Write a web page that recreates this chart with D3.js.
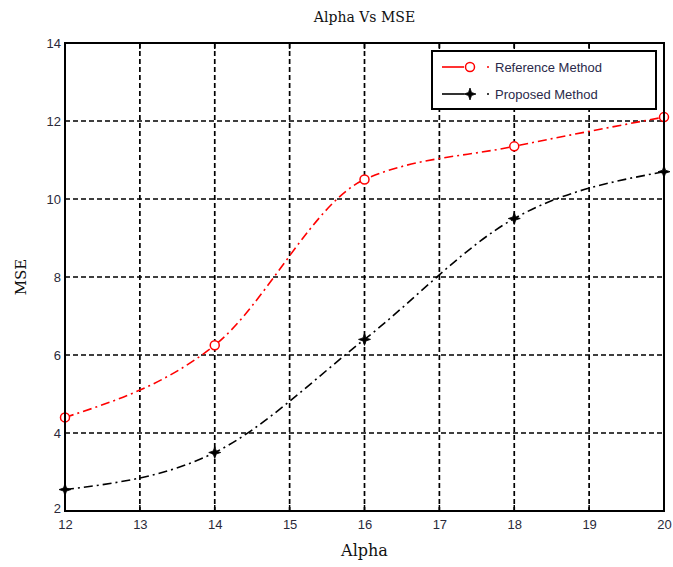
<!DOCTYPE html>
<html>
<head>
<meta charset="utf-8">
<script src="https://cdn.jsdelivr.net/npm/d3@7"></script>
<style>
  body { margin: 0; background: #fff; }
  .tick text { font-family: "Liberation Sans", Arial, sans-serif; font-size: 13px; fill: #2a2a3a; }
  .lab { font-family: "DejaVu Serif", "Liberation Serif", serif; fill: #111; }
  .leg { font-family: "Liberation Sans", Arial, sans-serif; font-size: 13px; fill: #2a2a4a; }
</style>
</head>
<body>
<div id="chart"></div>
<script>
var w = 673,
    h = 567,
    m = [43, 9, 56, 65]; // top right bottom left

var alpha = [12, 14, 16, 18, 20];
var referenceMSE = [4.4, 6.25, 10.5, 11.35, 12.1];
var proposedMSE = [2.55, 3.5, 6.4, 9.5, 10.7];
var xTicks = [12, 13, 14, 15, 16, 17, 18, 19, 20];
var yTicks = [2, 4, 6, 8, 10, 12, 14];

var series = [
  { name: "Reference Method", values: referenceMSE, color: "#ff0000", marker: "circle" },
  { name: "Proposed Method", values: proposedMSE, color: "#000000", marker: "star" }
];

var iw = w - m[1] - m[3],
    ih = h - m[0] - m[2];

var x = d3.scaleLinear().domain([12, 20]).range([0, iw]);
var y = d3.scaleLinear().domain([2, 14]).range([ih, 0]);

var svg = d3.select("#chart").append("svg")
    .attr("width", w)
    .attr("height", h);

var vis = svg.append("g")
    .attr("transform", "translate(" + m[3] + "," + m[0] + ")");

// grid
vis.append("g").selectAll("line")
    .data(xTicks.slice(1, -1))
  .enter().append("line")
    .attr("x1", function(d) { return x(d); })
    .attr("x2", function(d) { return x(d); })
    .attr("y1", 0).attr("y2", ih)
    .attr("stroke", "#000").attr("stroke-width", 1.7)
    .attr("stroke-dasharray", "5,3");

vis.append("g").selectAll("line")
    .data(yTicks.slice(1, -1))
  .enter().append("line")
    .attr("y1", function(d) { return y(d); })
    .attr("y2", function(d) { return y(d); })
    .attr("x1", 0).attr("x2", iw)
    .attr("stroke", "#000").attr("stroke-width", 1.7)
    .attr("stroke-dasharray", "5,3");

// axes
vis.append("g")
    .attr("transform", "translate(0," + ih + ")")
    .call(d3.axisBottom(x).tickValues(xTicks).tickSize(0).tickPadding(9))
    .call(function(g) { g.select(".domain").remove(); });

vis.append("g")
    .call(d3.axisLeft(y).tickValues(yTicks).tickSize(0).tickPadding(4))
    .call(function(g) {
      g.select(".domain").remove();
      g.selectAll(".tick text").attr("dy", function(d) { return d == 2 ? "0.1em" : "0.32em"; });
    });

// inner ticks
vis.append("g").selectAll("line")
    .data(xTicks)
  .enter().append("line")
    .attr("x1", function(d) { return x(d); })
    .attr("x2", function(d) { return x(d); })
    .attr("y1", ih).attr("y2", ih - 6)
    .attr("stroke", "#000").attr("stroke-width", 1.5);

vis.append("g").selectAll("line")
    .data(xTicks)
  .enter().append("line")
    .attr("x1", function(d) { return x(d); })
    .attr("x2", function(d) { return x(d); })
    .attr("y1", 0).attr("y2", 6)
    .attr("stroke", "#000").attr("stroke-width", 1.5);

var line = d3.line()
    .x(function(d, i) { return x(alpha[i]); })
    .y(function(d) { return y(d); })
    .curve(d3.curveMonotoneX);

function drawMarker(g, type, color) {
  if (type == "circle") {
    g.append("circle").attr("r", 4.5)
        .attr("fill", "#fff").attr("stroke", color).attr("stroke-width", 1.5);
  } else {
    g.append("path")
        .attr("d", "M-6,0L-1.5,-1.5L0,-6L1.5,-1.5L6,0L1.5,1.5L0,6L-1.5,1.5Z")
        .attr("fill", color).attr("stroke", color).attr("stroke-width", 0.8);
  }
}

series.forEach(function(s) {
  vis.append("path")
      .datum(s.values)
      .attr("d", line)
      .attr("fill", "none")
      .attr("stroke", s.color)
      .attr("stroke-width", 1.6)
      .attr("stroke-dasharray", "9,4,2,4");

  s.values.forEach(function(v, i) {
    var g = vis.append("g").attr("transform", "translate(" + x(alpha[i]) + "," + y(v) + ")");
    drawMarker(g, s.marker, s.color);
  });
});

// frame
vis.append("rect")
    .attr("width", iw).attr("height", ih)
    .attr("fill", "none").attr("stroke", "#000").attr("stroke-width", 2);

// legend
var legend = vis.append("g").attr("transform", "translate(" + (iw - 232) + ",8)");
legend.append("rect")
    .attr("width", 224).attr("height", 58)
    .attr("fill", "#fff").attr("stroke", "#000").attr("stroke-width", 2);

series.forEach(function(s, i) {
  var row = legend.append("g").attr("transform", "translate(0," + (16 + i * 27) + ")");
  row.append("line")
      .attr("x1", 10).attr("x2", 32)
      .attr("stroke", s.color).attr("stroke-width", 1.6);
  var mk = row.append("g").attr("transform", "translate(38,0)");
  drawMarker(mk, s.marker, s.color);
  row.append("line")
      .attr("x1", 55).attr("x2", 57)
      .attr("stroke", s.color).attr("stroke-width", 1.6);
  row.append("text")
      .attr("class", "leg")
      .attr("x", 63).attr("dy", "0.35em")
      .text(s.name);
});

// labels
svg.append("text")
    .attr("class", "lab")
    .attr("x", m[3] + iw / 2).attr("y", 22)
    .attr("text-anchor", "middle")
    .style("font-size", "14px")
    .text("Alpha Vs MSE");

svg.append("text")
    .attr("class", "lab")
    .attr("x", m[3] + iw / 2).attr("y", 556)
    .attr("text-anchor", "middle")
    .style("font-size", "16px")
    .text("Alpha");

svg.append("text")
    .attr("class", "lab")
    .attr("transform", "translate(26," + (m[0] + ih / 2) + ")rotate(-90)")
    .attr("text-anchor", "middle")
    .style("font-size", "15px")
    .text("MSE");
</script>
</body>
</html>
